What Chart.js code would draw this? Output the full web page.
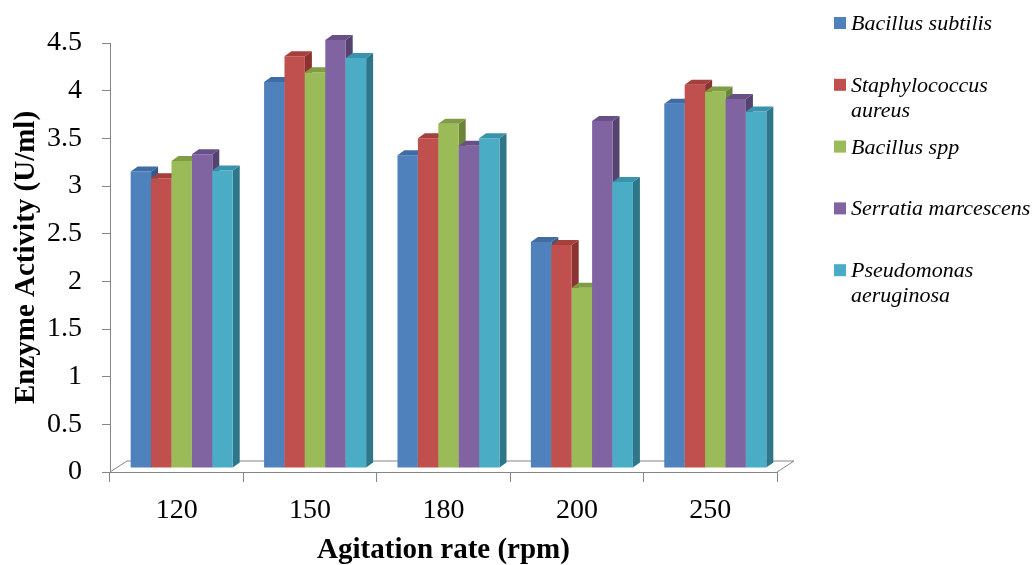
<!DOCTYPE html>
<html>
<head>
<meta charset="utf-8">
<title>Enzyme activity vs agitation rate</title>
<script src="https://cdn.jsdelivr.net/npm/chart.js@4.4.0/dist/chart.umd.min.js"></script>
<style>
  html, body { margin: 0; padding: 0; background: #ffffff; }
  #wrap { width: 1036px; height: 565px; }
</style>
</head>
<body>
<div id="wrap"><canvas id="chart" width="1036" height="565"></canvas></div>
<script>
// agitation rates (rpm) and enzyme activity (U/ml) per organism
const rates = ["120", "150", "180", "200", "250"];
const bacillusSubtilis = [3.11, 4.05, 3.28, 2.37, 3.82];
const staphAureus = [3.04, 4.32, 3.46, 2.34, 4.02];
const bacillusSpp = [3.22, 4.15, 3.61, 1.89, 3.95];
const serratiaMarcescens = [3.29, 4.49, 3.38, 3.64, 3.87];
const pseudomonasAeruginosa = [3.12, 4.3, 3.46, 3.0, 3.74];
const yTicks = [0, 0.5, 1, 1.5, 2, 2.5, 3, 3.5, 4, 4.5];

const seriesNames = [
  ["Bacillus subtilis"],
  ["Staphylococcus", "aureus"],
  ["Bacillus spp"],
  ["Serratia marcescens"],
  ["Pseudomonas", "aeruginosa"],
];
const seriesValues = [bacillusSubtilis, staphAureus, bacillusSpp, serratiaMarcescens, pseudomonasAeruginosa];

// front / top / side colours of each column
const faceColors = [
  { front: "#4F81BD", top: "#3F6CA5", side: "#345A8A" },
  { front: "#C0504D", top: "#A53F3C", side: "#8A3331" },
  { front: "#9BBB59", top: "#809D45", side: "#6A8438" },
  { front: "#8064A2", top: "#675086", side: "#55426F" },
  { front: "#4BACC6", top: "#3A93AC", side: "#2F7688" },
];

const AXIS_GRAY = "#868686";
const SERIF = "'Liberation Serif', 'Times New Roman', serif";

// columns sit in the middle of the floor, so they are pushed up/right a bit
const SHIFT_X = 5, SHIFT_Y = -4;
const DEPTH_X = 7, DEPTH_Y = 5;
const FLOOR_X = 17, FLOOR_Y = 11;

function poly(ctx, pts, fill) {
  ctx.beginPath();
  ctx.moveTo(pts[0][0], pts[0][1]);
  for (let i = 1; i < pts.length; i++) ctx.lineTo(pts[i][0], pts[i][1]);
  ctx.closePath();
  ctx.fillStyle = fill;
  ctx.fill();
}

const bars3d = {
  id: "bars3d",
  beforeDatasetsDraw(chart) {
    const { ctx, chartArea } = chart;
    const l = chartArea.left, r = chartArea.right, b = chartArea.bottom;
    ctx.save();
    ctx.beginPath();
    ctx.moveTo(l, b);
    ctx.lineTo(l + FLOOR_X, b - FLOOR_Y);
    ctx.lineTo(r + FLOOR_X, b - FLOOR_Y);
    ctx.lineTo(r, b);
    ctx.fillStyle = "#ffffff";
    ctx.fill();
    ctx.strokeStyle = AXIS_GRAY;
    ctx.lineWidth = 1;
    ctx.stroke();
    ctx.restore();
  },
  afterDatasetsDraw(chart) {
    const ctx = chart.ctx;
    const metas = chart.data.datasets.map((d, i) => chart.getDatasetMeta(i));
    ctx.save();
    for (let c = 0; c < rates.length; c++) {
      metas.forEach((meta, i) => {
        const el = meta.data[c];
        const p = el.getProps(["x", "y", "base", "width"], true);
        const x0 = p.x - p.width / 2 + SHIFT_X;
        const x1 = p.x + p.width / 2 + SHIFT_X;
        const yt = p.y + SHIFT_Y;
        const yb = p.base + SHIFT_Y;
        const col = faceColors[i];
        poly(ctx, [[x1, yt], [x1 + DEPTH_X, yt - DEPTH_Y], [x1 + DEPTH_X, yb - DEPTH_Y], [x1, yb]], col.side);
        poly(ctx, [[x0, yt], [x1, yt], [x1, yb], [x0, yb]], col.front);
        poly(ctx, [[x0, yt], [x1, yt], [x1 + DEPTH_X, yt - DEPTH_Y], [x0 + DEPTH_X, yt - DEPTH_Y]], col.top);
      });
    }
    ctx.restore();
  },
};

const sideLegend = {
  id: "sideLegend",
  afterDraw(chart) {
    const ctx = chart.ctx;
    ctx.save();
    ctx.font = "italic 22px " + SERIF;
    ctx.textBaseline = "alphabetic";
    ctx.textAlign = "left";
    seriesNames.forEach((lines, i) => {
      const cy = 23 + i * 61.8;
      ctx.fillStyle = faceColors[i].front;
      ctx.fillRect(834, cy - 6, 12, 12);
      ctx.fillStyle = "#000000";
      lines.forEach((t, k) => ctx.fillText(t, 851, cy + 7 + k * 25));
    });
    ctx.restore();
  },
};

const datasets = seriesValues.map((vals, i) => ({
  label: seriesNames[i].join(" "),
  data: vals,
  backgroundColor: "rgba(0,0,0,0)",
  borderWidth: 0,
  barPercentage: 1,
  categoryPercentage: 0.765,
}));

new Chart(document.getElementById("chart"), {
  type: "bar",
  data: { labels: rates, datasets: datasets },
  options: {
    responsive: false,
    animation: false,
    layout: { padding: { left: 0, right: 259, top: 43, bottom: 0 } },
    plugins: { legend: { display: false }, tooltip: { enabled: false } },
    scales: {
      x: {
        grid: { display: true, drawOnChartArea: false, offset: true, color: AXIS_GRAY, tickLength: 10 },
        border: { display: true, color: AXIS_GRAY },
        ticks: { color: "#000000", font: { family: SERIF, size: 28 }, padding: 12 },
        title: {
          display: true,
          text: "Agitation rate (rpm)",
          color: "#000000",
          font: { family: SERIF, size: 29, weight: "bold", lineHeight: 1 },
          padding: { top: 0, bottom: 0 },
        },
        afterFit(scale) { scale.height = 93; },
      },
      y: {
        min: 0,
        max: 4.5,
        grid: { display: true, drawOnChartArea: false, color: AXIS_GRAY, tickLength: 8 },
        border: { display: true, color: AXIS_GRAY },
        afterBuildTicks(scale) { scale.ticks = yTicks.map((v) => ({ value: v })); },
        ticks: {
          color: "#000000",
          font: { family: SERIF, size: 28 },
          padding: 20,
          callback: (value) => String(value),
        },
        title: {
          display: true,
          text: "Enzyme Activity (U/ml)",
          color: "#000000",
          font: { family: SERIF, size: 29, weight: "bold", lineHeight: 1.2 },
          padding: { top: 9, bottom: 0 },
        },
        afterFit(scale) { scale.width = 110; },
      },
    },
  },
  plugins: [bars3d, sideLegend],
});
</script>
</body>
</html>
